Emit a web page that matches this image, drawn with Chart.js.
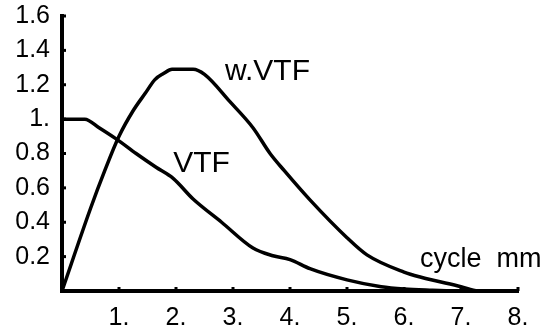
<!DOCTYPE html>
<html>
<head>
<meta charset="utf-8">
<script src="https://cdn.jsdelivr.net/npm/chart.js@4/dist/chart.umd.min.js"></script>
<style>
  html, body { margin: 0; padding: 0; background: #fff; }
  #c { display: block; }
</style>
</head>
<body>
<canvas id="c" width="551" height="333"></canvas>
<script>
// values
const vtfX = [0, 0.4, 0.65, 0.95, 1.3, 1.65, 1.95, 2.3, 2.8, 3.35, 3.7, 4.0, 4.35, 5.0, 5.6, 6.0, 6.5, 7.0, 8.0];
const vtfY = [1.0, 1.0, 0.95, 0.885, 0.80, 0.72, 0.655, 0.535, 0.40, 0.25, 0.205, 0.183, 0.13, 0.065, 0.025, 0.012, 0.005, 0.0, 0.0];

const wvtfX = [0, 0.5, 0.75, 1.0, 1.25, 1.46, 1.63, 1.78, 1.93, 2.3, 2.5, 2.95, 3.35, 3.65, 3.9, 4.35, 5.0, 5.35, 6.0, 6.3, 7.0, 7.3, 8.0];
const wvtfY = [0, 0.48, 0.70, 0.90, 1.05, 1.15, 1.23, 1.265, 1.29, 1.29, 1.26, 1.10, 0.95, 0.80, 0.70, 0.53, 0.31, 0.21, 0.11, 0.08, 0.025, 0.0, 0.0];

const xTickValues = [1, 2, 3, 4, 5, 6, 7, 8];
const xTickLabels = ["1.", "2.", "3.", "4.", "5.", "6.", "7.", "8."];
const yTickValues = [0.2, 0.4, 0.6, 0.8, 1.0, 1.2, 1.4, 1.6];
const yTickLabels = ["0.2", "0.4", "0.6", "0.8", "1.", "1.2", "1.4", "1.6"];

const curveNames = ["VTF", "w.VTF"];
const axisName = "cycle  mm";

const FONT = "'Liberation Sans', Arial, Helvetica, sans-serif";

const toPoints = (xs, ys) => xs.map((x, i) => ({ x: x, y: ys[i] }));

// labels + small inward tick marks
const extras = {
  id: "extras",
  afterDraw(chart) {
    const ctx = chart.ctx;
    const xs = chart.scales.x;
    const ys = chart.scales.y;
    ctx.save();
    ctx.fillStyle = "#000";
    ctx.strokeStyle = "#000";
    ctx.lineWidth = 3;
    xTickValues.forEach(v => {
      const px = xs.getPixelForValue(v);
      ctx.beginPath();
      ctx.moveTo(px, ys.bottom);
      ctx.lineTo(px, ys.bottom - 4);
      ctx.stroke();
    });
    yTickValues.forEach(v => {
      const py = ys.getPixelForValue(v);
      ctx.beginPath();
      ctx.moveTo(xs.left, py);
      ctx.lineTo(xs.left + 4, py);
      ctx.stroke();
    });

    ctx.textAlign = "left";
    ctx.textBaseline = "alphabetic";
    ctx.font = "30px " + FONT;
    ctx.fillText(curveNames[1], xs.getPixelForValue(2.86), ys.getPixelForValue(1.227));
    ctx.fillText(curveNames[0], xs.getPixelForValue(1.95), ys.getPixelForValue(0.69));
    ctx.font = "27px " + FONT;
    ctx.fillText(axisName, xs.getPixelForValue(6.28), ys.getPixelForValue(0.14));
    ctx.restore();
  }
};

new Chart(document.getElementById("c"), {
  type: "scatter",
  data: {
    datasets: [
      {
        label: curveNames[0],
        data: toPoints(vtfX, vtfY),
        showLine: true,
        borderColor: "#000",
        borderWidth: 3.5,
        pointRadius: 0,
        cubicInterpolationMode: "monotone",
        clip: false
      },
      {
        label: curveNames[1],
        data: toPoints(wvtfX, wvtfY),
        showLine: true,
        borderColor: "#000",
        borderWidth: 3.5,
        pointRadius: 0,
        cubicInterpolationMode: "monotone",
        clip: false
      }
    ]
  },
  options: {
    responsive: false,
    animation: false,
    events: [],
    layout: { padding: { top: 16, right: 33, left: 0, bottom: 0 } },
    plugins: {
      legend: { display: false },
      tooltip: { enabled: false }
    },
    scales: {
      x: {
        type: "linear",
        min: 0,
        max: 8,
        afterBuildTicks: scale => { scale.ticks = xTickValues.map(v => ({ value: v })); },
        afterFit: scale => {
          scale.height = 42;
          scale.paddingLeft = 0;
          scale.paddingRight = 0;
        },
        grid: { display: false, drawTicks: false },
        border: { display: true, color: "#000", width: 4 },
        ticks: {
          autoSkip: false,
          maxRotation: 0,
          padding: 12,
          color: "#000",
          font: { family: FONT, size: 25 },
          callback: (v, i) => xTickLabels[i]
        }
      },
      y: {
        type: "linear",
        min: 0,
        max: 1.6,
        afterBuildTicks: scale => { scale.ticks = yTickValues.map(v => ({ value: v })); },
        afterFit: scale => {
          scale.width = 62;
          scale.paddingTop = 0;
          scale.paddingBottom = 0;
        },
        grid: { display: false, drawTicks: false },
        border: { display: true, color: "#000", width: 4 },
        ticks: {
          autoSkip: false,
          padding: 12,
          color: "#000",
          font: { family: FONT, size: 25 },
          callback: (v, i) => yTickLabels[i]
        }
      }
    }
  },
  plugins: [extras]
});
</script>
</body>
</html>
